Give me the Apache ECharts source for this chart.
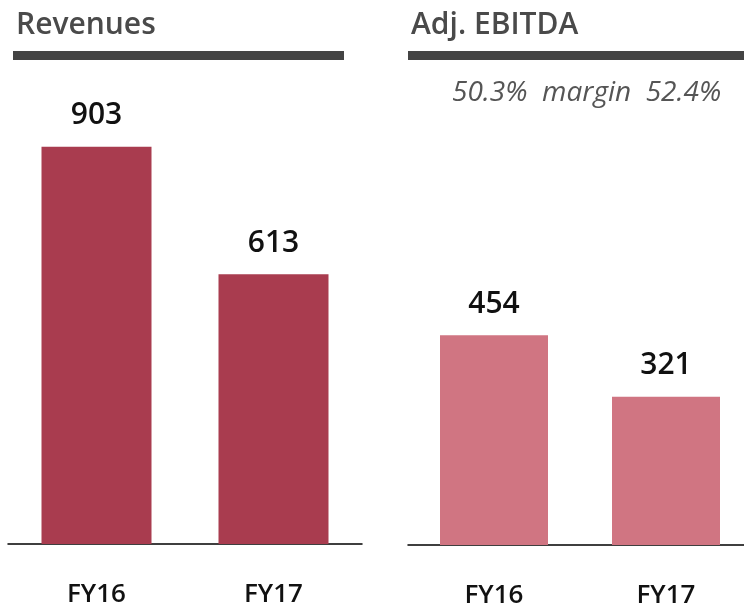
<!DOCTYPE html>
<html><head><meta charset="utf-8">
<script src="https://cdn.jsdelivr.net/npm/echarts@6/dist/echarts.min.js"></script>
<style>html,body{margin:0;padding:0;background:#fff}#c{width:744px;height:604px}</style>
</head><body><div id="c"></div>
<script>
const categories = ['FY16', 'FY17'];
const revenues = [903, 613];
const ebitda = [454, 321];
const marginText = '50.3%  margin  52.4%';
const titles = ['Revenues', 'Adj. EBITDA'];

const chart = echarts.init(document.getElementById('c'), null, {renderer: 'canvas'});
const FONT = '"Open Sans", sans-serif';
const labelStyle = {show: true, position: 'top', distance: 16, color: '#111', fontSize: 30, fontWeight: 600, fontFamily: FONT};
const catAxis = (gi) => ({
  type: 'category', gridIndex: gi, data: categories,
  axisLine: {lineStyle: {color: '#000', width: 1.5}}, axisTick: {show: false},
  axisLabel: {color: '#111', fontSize: 26, fontWeight: 600, fontFamily: FONT, margin: 38}
});
chart.setOption({
  animation: false,
  title: [
    {text: titles[0], left: 11, top: 5, textStyle: {color: '#4a4a4a', fontSize: 30, fontWeight: 600, fontFamily: FONT}},
    {text: titles[1], left: 406, top: 5, textStyle: {color: '#4a4a4a', fontSize: 30, fontWeight: 600, fontFamily: FONT}},
    {text: marginText, left: 447, top: 74, textStyle: {color: '#555', fontSize: 28, fontStyle: 'italic', fontWeight: 'normal', fontFamily: FONT}}
  ],
  graphic: [
    {type: 'rect', shape: {x: 13, y: 51, width: 331, height: 9}, style: {fill: '#444'}},
    {type: 'rect', shape: {x: 408, y: 51, width: 336, height: 9}, style: {fill: '#444'}}
  ],
  grid: [
    {left: 8, width: 354, top: 104, height: 440, outerBoundsMode: 'none', containLabel: false},
    {left: 408, width: 344, top: 83, height: 462, outerBoundsMode: 'none', containLabel: false}
  ],
  xAxis: [catAxis(0), catAxis(1)],
  yAxis: [
    {type: 'value', gridIndex: 0, min: 0, max: 1000, show: false, splitLine: {show: false}},
    {type: 'value', gridIndex: 1, min: 0, max: 1000, show: false, splitLine: {show: false}}
  ],
  series: [
    {type: 'bar', xAxisIndex: 0, yAxisIndex: 0, data: revenues, barWidth: 110, itemStyle: {color: '#a93c4f'}, label: labelStyle},
    {type: 'bar', xAxisIndex: 1, yAxisIndex: 1, data: ebitda, barWidth: 108, itemStyle: {color: '#d07582'}, label: labelStyle}
  ]
});
</script></body></html>
